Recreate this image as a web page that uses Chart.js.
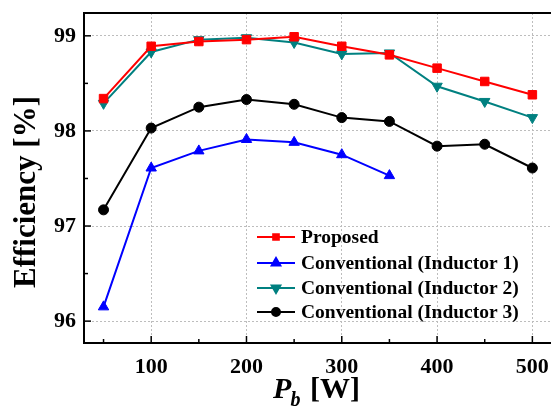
<!DOCTYPE html>
<html>
<head>
<meta charset="utf-8">
<script src="https://cdn.jsdelivr.net/npm/chart.js@4"></script>
<style>
  html, body { margin: 0; padding: 0; background: #fff; overflow: hidden; }
  #wrap { width: 551px; height: 407px; overflow: hidden; }
</style>
</head>
<body>
<div id="wrap"><canvas id="chart" width="557" height="407"></canvas></div>
<script>
// --- DATA ---
const powerW = [50, 100, 150, 200, 250, 300, 350, 400, 450, 500];
const proposed = [98.34, 98.89, 98.94, 98.96, 98.99, 98.89, 98.80, 98.66, 98.52, 98.38];
const inductor1 = [96.15, 97.61, 97.79, 97.91, 97.88, 97.75, 97.53];
const inductor2 = [98.29, 98.83, 98.96, 98.98, 98.93, 98.81, 98.82, 98.47, 98.31, 98.14];
const inductor3 = [97.17, 98.03, 98.25, 98.33, 98.28, 98.14, 98.10, 97.84, 97.86, 97.61];
const seriesNames = ['Proposed', 'Conventional (Inductor 1)', 'Conventional (Inductor 2)', 'Conventional (Inductor 3)'];
const xTicks = [50, 100, 150, 200, 250, 300, 350, 400, 450, 500];
const yTicks = [96, 96.5, 97, 97.5, 98, 98.5, 99];

const SERIF = '"Liberation Serif", "Times New Roman", serif';

function pts(vals) {
  return vals.map((v, i) => ({ x: powerW[i], y: v }));
}

// draws frame, inward ticks, legend and axis titles
const decoPlugin = {
  id: 'deco',
  afterDraw(chart) {
    const ctx = chart.ctx;
    const a = chart.chartArea;
    const xs = chart.scales.x, ys = chart.scales.y;
    ctx.save();
    // frame (right side runs off the picture)
    ctx.strokeStyle = '#000';
    ctx.lineWidth = 2;
    ctx.beginPath();
    ctx.moveTo(a.right + 5, a.top); ctx.lineTo(a.left, a.top);
    ctx.lineTo(a.left, a.bottom); ctx.lineTo(a.right + 5, a.bottom);
    ctx.stroke();
    // ticks inward
    ctx.lineWidth = 1.5;
    xTicks.forEach(v => {
      const px = xs.getPixelForValue(v);
      const len = v % 100 === 0 ? 7 : 4;
      ctx.beginPath(); ctx.moveTo(px, a.bottom); ctx.lineTo(px, a.bottom - len); ctx.stroke();
    });
    yTicks.forEach(v => {
      const py = ys.getPixelForValue(v);
      const len = Number.isInteger(v) ? 7 : 4;
      ctx.beginPath(); ctx.moveTo(a.left, py); ctx.lineTo(a.left + len, py); ctx.stroke();
    });

    // legend
    const rowY = [237, 263, 288, 312];
    chart.data.datasets.forEach((ds, i) => {
      const y = rowY[i];
      ctx.strokeStyle = ds.borderColor;
      ctx.lineWidth = 2;
      ctx.beginPath(); ctx.moveTo(257, y); ctx.lineTo(295, y); ctx.stroke();
      Chart.helpers.drawPoint(ctx, {
        pointStyle: ds.pointStyle, rotation: ds.pointRotation || 0,
        radius: ds.pointStyle === 'triangle' ? 5 : 4, borderWidth: 1
      }, 276, y);
      ctx.fillStyle = ds.pointBackgroundColor;
      ctx.fill();
      ctx.fillStyle = '#000';
      ctx.font = 'bold 19.5px ' + SERIF;
      ctx.textBaseline = 'middle';
      ctx.textAlign = 'left';
      ctx.fillText(ds.label, 301, y + 1);
    });

    // y title
    ctx.save();
    ctx.translate(27, 192);
    ctx.rotate(-Math.PI / 2);
    ctx.font = 'bold 31px ' + SERIF;
    ctx.textAlign = 'center';
    ctx.textBaseline = 'middle';
    ctx.fillStyle = '#000';
    ctx.fillText('Efficiency [%]', 0, 0);
    ctx.restore();

    // x title: P_b [W]
    ctx.fillStyle = '#000';
    ctx.textBaseline = 'alphabetic';
    ctx.textAlign = 'left';
    const big = 'bold 30px ' + SERIF;
    const bigIt = 'italic bold 30px ' + SERIF;
    const sub = 'italic bold 20px ' + SERIF;
    ctx.font = bigIt; const wP = ctx.measureText('P').width;
    ctx.font = sub; const wb = ctx.measureText('b').width;
    ctx.font = big; const wW = ctx.measureText(' [W]').width;
    let x0 = 317 - (wP + wb + 2 + wW) / 2;
    const base = 398;
    ctx.font = bigIt; ctx.fillText('P', x0, base);
    ctx.font = sub; ctx.fillText('b', x0 + wP - 1, base + 8);
    ctx.font = big; ctx.fillText(' [W]', x0 + wP + wb + 1, base);
    ctx.restore();
  }
};

const mkSet = (label, vals, color, style, radius, rot) => ({
  label, data: pts(vals),
  borderColor: color, backgroundColor: color,
  pointBackgroundColor: color, pointBorderColor: color,
  pointStyle: style, pointRadius: radius, pointRotation: rot || 0,
  pointBorderWidth: 1, borderWidth: 2, tension: 0, fill: false
});

new Chart(document.getElementById('chart'), {
  type: 'line',
  data: {
    datasets: [
      mkSet(seriesNames[0], proposed, '#ff0000', 'rect', 6),
      mkSet(seriesNames[1], inductor1, '#0000ff', 'triangle', 6),
      mkSet(seriesNames[2], inductor2, '#008080', 'triangle', 6, 180),
      mkSet(seriesNames[3], inductor3, '#000000', 'circle', 5)
    ]
  },
  options: {
    responsive: false,
    animation: false,
    layout: { padding: { top: 13, right: 0, left: 0, bottom: 0 } },
    plugins: { legend: { display: false }, tooltip: { enabled: false } },
    scales: {
      x: {
        type: 'linear', min: 29.5, max: 518.5,
        afterBuildTicks: s => { s.ticks = xTicks.map(v => ({ value: v })); },
        afterFit: s => { s.height = 64; s.paddingLeft = 0; s.paddingRight = 0; },
        border: { display: false, dash: [2, 2] },
        grid: {
          drawTicks: false,
          color: c => (c.tick && c.tick.value % 100 === 0) ? '#bdbdbd' : 'rgba(0,0,0,0)',
          lineWidth: 1
        },
        ticks: {
          padding: 11, maxRotation: 0, autoSkip: false,
          color: '#000', font: { family: SERIF, size: 22, weight: 'bold' },
          callback: v => v % 100 === 0 ? v : ''
        }
      },
      y: {
        min: 95.77, max: 99.24,
        afterBuildTicks: s => { s.ticks = yTicks.map(v => ({ value: v })); },
        afterFit: s => { s.width = 84; s.paddingTop = 0; s.paddingBottom = 0; },
        border: { display: false, dash: [2, 2] },
        grid: {
          drawTicks: false,
          color: c => (c.tick && Number.isInteger(c.tick.value)) ? '#bdbdbd' : 'rgba(0,0,0,0)',
          lineWidth: 1
        },
        ticks: {
          padding: 8, autoSkip: false,
          color: '#000', font: { family: SERIF, size: 22, weight: 'bold' },
          callback: v => Number.isInteger(v) ? v : ''
        }
      }
    }
  },
  plugins: [decoPlugin]
});
</script>
</body>
</html>
